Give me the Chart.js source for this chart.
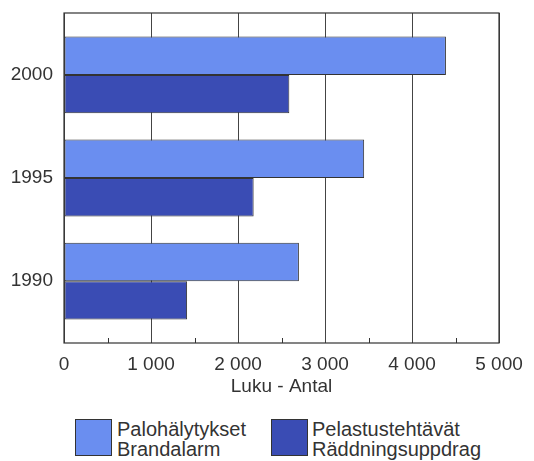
<!DOCTYPE html>
<html>
<head>
<meta charset="utf-8">
<script src="https://cdn.jsdelivr.net/npm/chart.js@4/dist/chart.umd.min.js"></script>
<style>
    body { margin: 0; background: #fff; }
    #wrap { position: relative; width: 534px; height: 461px; font-family: "Liberation Sans", Arial, sans-serif; color: #333; }
    #chart { position: absolute; left: 0; top: 0; }
    .leg-box { position: absolute; width: 35px; height: 35px; border: 1px solid #333; top: 419px; }
    .leg-text { position: absolute; top: 419px; font-size: 20px; line-height: 20px; white-space: nowrap; }
</style>
</head>
<body>
<div id="wrap">
    <canvas id="chart" width="534" height="400"></canvas>
    <div id="legend"></div>
</div>
<script>
// ===== data =====
const years = ["2000", "1995", "1990"];
const alarms = [4390, 3450, 2700];      // Palohälytykset / Brandalarm
const rescues = [2590, 2180, 1415];     // Pelastustehtävät / Räddningsuppdrag
const seriesNames = [
    ["Palohälytykset", "Brandalarm"],
    ["Pelastustehtävät", "Räddningsuppdrag"],
];
const xTicks = [0, 1000, 2000, 3000, 4000, 5000];
const xMinorTicks = [500, 1500, 2500, 3500, 4500];

const LIGHT = "#6a8ef0";
const DARK = "#3a4cb4";
const INK = "#333";
const FONT = "'Liberation Sans', Arial, sans-serif";

// frame + small inside ticks at the bottom
const framePlugin = {
    id: "frame",
    afterDraw(chart) {
        const { ctx, chartArea: a } = chart;
        const xs = chart.scales.x;
        ctx.save();
        ctx.strokeStyle = INK;
        ctx.lineWidth = 1.2;
        ctx.strokeRect(a.left, a.top, a.right - a.left, a.bottom - a.top);
        ctx.lineWidth = 1;
        xMinorTicks.forEach(v => {
            const px = Math.round(xs.getPixelForValue(v)) + 0.5;
            ctx.beginPath();
            ctx.moveTo(px, a.bottom);
            ctx.lineTo(px, a.bottom - 5);
            ctx.stroke();
        });
        ctx.restore();
    },
};

new Chart(document.getElementById("chart"), {
    type: "bar",
    data: {
        datasets: [
            {
                label: seriesNames[0].join(" "),
                data: alarms.map((v, i) => ({ x: v, y: i })),
                backgroundColor: LIGHT,
                borderColor: INK,
                borderWidth: 1,
                borderSkipped: false,
                categoryPercentage: 0.745,
                barPercentage: 1,
            },
            {
                label: seriesNames[1].join(" "),
                data: rescues.map((v, i) => ({ x: v, y: i })),
                backgroundColor: DARK,
                borderColor: INK,
                borderWidth: 1,
                borderSkipped: false,
                categoryPercentage: 0.745,
                barPercentage: 1,
            },
        ],
    },
    options: {
        indexAxis: "y",
        responsive: false,
        animation: false,
        layout: { padding: { top: 13, right: 35, left: 0, bottom: 0 } },
        plugins: {
            legend: { display: false },
            tooltip: { enabled: false },
        },
        scales: {
            x: {
                type: "linear",
                min: 0,
                max: 5000,
                afterBuildTicks: s => { s.ticks = xTicks.map(v => ({ value: v })); },
                afterFit: s => { s.height = 57; },
                grid: { color: "#444", lineWidth: 1, drawTicks: false },
                border: { display: false },
                ticks: {
                    color: INK,
                    font: { family: FONT, size: 19 },
                    padding: 10,
                    maxRotation: 0,
                    callback: v => v === 0 ? "0" : String(v).replace(/\B(?=(\d{3})+(?!\d))/g, " "),
                },
                title: {
                    display: true,
                    text: "Luku - Antal",
                    color: INK,
                    font: { family: FONT, size: 19 },
                    padding: { top: 0, bottom: 2 },
                },
            },
            y: {
                type: "linear",
                reverse: true,
                offset: false,
                bounds: "data",
                min: -0.6,
                max: 2.6,
                afterBuildTicks: s => { s.ticks = years.map((_, i) => ({ value: i })); },
                afterFit: s => {
                    s.width = 64;
                    s.paddingTop = 0;
                    s.paddingBottom = 0;
                },
                grid: { display: false, drawTicks: false, offset: false },
                border: { display: false },
                ticks: {
                    color: INK,
                    font: { family: FONT, size: 19 },
                    padding: 11,
                    callback: v => years[v],
                },
            },
        },
    },
    plugins: [framePlugin],
});

// legend with two-line labels
const legend = document.getElementById("legend");
const legendPos = [{ box: 75, text: 117 }, { box: 271, text: 312 }];
[LIGHT, DARK].forEach((c, i) => {
    const box = document.createElement("div");
    box.className = "leg-box";
    box.style.left = legendPos[i].box + "px";
    box.style.background = c;
    legend.appendChild(box);
    const txt = document.createElement("div");
    txt.className = "leg-text";
    txt.style.left = legendPos[i].text + "px";
    txt.innerHTML = seriesNames[i].join("<br>");
    legend.appendChild(txt);
});
</script>
</body>
</html>
